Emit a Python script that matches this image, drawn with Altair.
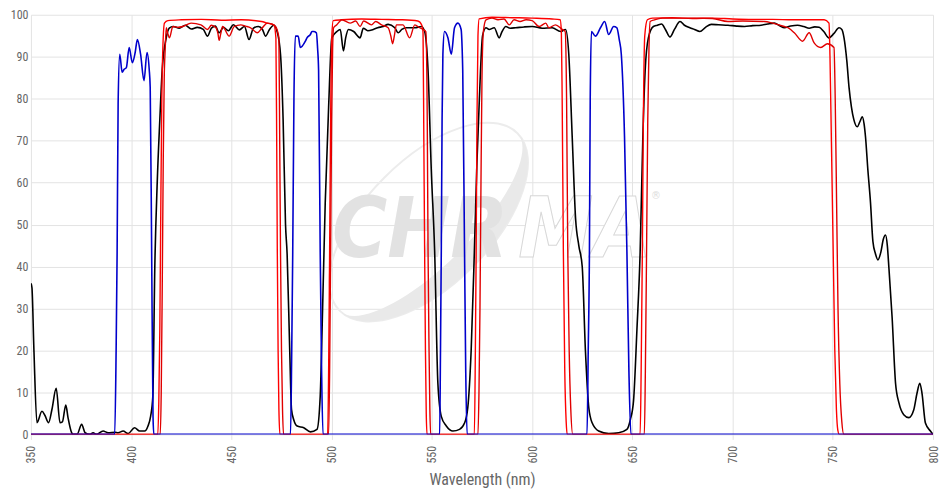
import altair as alt
import pandas as pd

# ---------------- data ----------------
x_ticks = [350, 400, 450, 500, 550, 600, 650, 700, 750, 800]
y_ticks = [0, 10, 20, 30, 40, 50, 60, 70, 80, 90, 100]

black_wl = [350, 350.5, 351.5, 353, 355.5, 357, 358.8, 360.5, 362.6, 364.5, 365.7, 367.4, 368.5, 370.3, 371, 373,
            375.3, 377, 379.4, 381, 382.7, 386, 388.5, 392, 393.5, 396, 398.5, 401.7, 404.2, 406.7, 408.4, 409.7,
            410.8, 411.8, 413, 414.3, 415.5, 417.5, 419, 421, 424, 427, 430, 433, 436, 438.1, 440, 442, 443.9,
            446, 448.5, 451, 454, 456.5, 458.8, 461, 463.5, 465.5, 467, 469, 471.2, 472.8, 474.5, 475.8, 477,
            477.8, 479.1, 480, 481.1, 482.8, 486.1, 489.4, 492.7, 494.3, 495.5, 496.8, 498.5, 500.1, 502.6, 504.3,
            505.9, 507, 508.4, 511, 514.2, 515.8, 518, 520.8, 523, 525.7, 528.2, 531.5, 533.2, 535, 537.3, 541.5,
            544.8, 546.4, 548.1, 549.7, 551.4, 553, 554.7, 557.2, 560.5, 563.8, 566.3, 567.9, 569.6, 571.2, 572.5,
            573.7, 575.3, 577, 578.6, 581.1, 583.6, 585, 586.9, 589, 591.8, 596, 600.1, 605, 610, 614.2, 616.7,
            618.3, 620, 621.7, 623.3, 625, 626.6, 628.3, 630, 633.2, 638.2, 643.2, 647.3, 649, 650.6, 652.3, 653.9,
            655.2, 656.4, 658, 660.5, 662.5, 664.6, 666.5, 668.8, 671, 673.8, 676, 678.7, 681, 683.7, 686.5, 689.4,
            693, 697.7, 702, 706, 710, 714.2, 717.5, 720.8, 723.5, 725.8, 729, 732.4, 735.5, 738.2, 741, 743.2,
            745.5, 748.1, 750.5, 753.1, 754.5, 755.6, 757, 758.1, 759.3, 760.5, 762.2, 763.5, 764.7, 765.6, 766.3,
            767.5, 768.8, 770, 771.3, 772.5, 774, 775.2, 776.3, 777.2, 778, 779.6, 781.3, 783, 785.4, 787.9, 790.4,
            792, 793.4, 794.5, 796.2, 798.7, 800]
black_t = [36, 35, 20, 2.8, 5.5, 4.5, 2.8, 6, 11, 2.8, 3, 7, 4, 0.4, 0, 0,
           2.4, 0.4, 0, 0.4, 0, 0.8, 0.4, 0.5, 0.4, 0.8, 0.2, 1.6, 0.8, 0.8, 2, 4.3,
           9, 40, 60, 75, 87, 94.5, 96.8, 97.2, 96.8, 97.5, 96.6, 97, 96.5, 94.9, 96.8, 97.3, 95.7,
           97, 96.2, 97.6, 96.4, 97.2, 94.1, 96.8, 97.2, 96.5, 94.9, 96.5, 97.5, 96, 90.6, 75, 50,
           43, 20, 5.9, 3.5, 2, 1.6, 0.6, 1.2, 9, 30, 55, 78, 94.5, 96, 96.5,
           91.4, 94.5, 96.5, 96, 94.5, 96.8, 96.2, 96.5, 96.9, 97.2, 97.7, 96.9, 95.7, 96.5, 96.9, 96.9,
           97.2, 96, 86.7, 63.2, 43.5, 12.2, 4.3, 2, 0.8, 1.2, 2.7, 6.3, 20, 43.5, 65,
           80, 95, 96.9, 96.5, 96.9, 94.5, 96, 97.2, 96.8, 96.9, 97.1, 97.2, 96.8, 96.9, 96, 96.5,
           90.6, 71, 51.4, 45, 40, 20, 6.3, 2.7, 0.8, 0.2, 0.4, 1.2, 3.5, 8, 25, 43.5,
           70, 86.7, 94.5, 97.2, 97.5, 97.8, 96.5, 94.7, 96.5, 98.4, 97.5, 96.9, 96.5, 96, 97, 97.7,
           97.6, 97.5, 97.3, 97.2, 97.4, 97.5, 97.8, 98, 97.4, 96.9, 97.3, 97.5, 97.2, 96.8, 97.1, 97,
           96, 94.5, 95.5, 96.9, 96.5, 94.5, 89, 82.7, 78, 75, 73.3, 74.5, 75.7, 74, 71,
           63, 55.3, 46, 43, 41.6, 43.5, 46.5, 47.5, 45, 39.6, 27.8, 12.2, 7.5, 4.7, 4, 5.9,
           9.8, 12.2, 9.8, 2.7, 0.8, 0]

blue_wl = [350, 391.8, 392.5, 393, 393.5, 394.3, 395.5, 396.5, 397.6, 399, 400.6, 402, 403.1, 404.7, 406.4,
           407.9, 409, 409.5, 410.2, 410.9, 411.3,
           479.5, 480.1, 480.6, 481.2, 481.9, 483.3, 484.4, 486.9, 487.7, 489.4, 490.2, 491, 492.4, 493, 493.5,
           494.3, 495, 495.7,
           553.9, 554.3, 554.7, 555.1, 555.5, 556.3, 558, 559.7, 561.3, 563, 564.6, 565.1, 565.4, 566.3, 566.9,
           567.6,
           627.4, 628, 628.6, 629, 629.6, 631.6, 634.1, 636.2, 638.2, 640.7, 642.3, 643.5, 644.5, 646.1, 647.3,
           648.3, 649.3, 800]
blue_t = [0, 0, 20, 43.5, 78.8, 90.6, 86.3, 87, 87.4, 92.2, 88.6, 91, 94.1, 90.6, 84.3,
          91, 87, 82.7, 45, 4.3, 0,
          0, 20, 43.5, 80, 94.9, 94.9, 92.2, 93.7, 94.5, 95.3, 96, 96, 95.7, 92, 86.7,
          43.5, 15, 0,
          0, 20, 43.5, 75, 90.6, 96, 94.5, 90.6, 96.9, 98, 96.5, 92, 86.7, 43.5, 15,
          0,
          0, 20, 43.5, 80, 96, 94.9, 96.9, 98.4, 95.3, 97.2, 96.9, 94, 90.6, 71, 43.5,
          15, 0, 0]

redA_wl = [350, 413.3, 413.8, 414.3, 414.8, 415.3, 415.8, 416.6, 418.3, 425, 435, 445, 455, 465, 467.9, 471.2,
           472.2, 472.6, 472.9, 473.3, 473.7, 474.2,
           498, 498.5, 499, 499.5, 500.1, 500.8, 505, 515, 525, 535, 543, 545, 545.6, 546, 546.4, 546.8, 547.2,
           547.6,
           571.2, 571.7, 572.1, 572.5, 573, 573.6, 580, 590, 600, 610, 614, 614.6, 615, 615.6, 616.3, 617, 617.5,
           653.9, 654.4, 655, 655.5, 656.2, 657.5, 660, 670, 680, 690, 700, 710, 720, 730, 740, 745.7, 748.1,
           748.6, 749.3, 750.2, 751, 751.8, 752.5, 753.2, 800]
redA_t = [0, 0, 8, 25, 55, 80, 92, 98, 98.6, 98.8, 98.9, 98.7, 98.8, 98.4, 98, 97.6,
          94.5, 70, 43.5, 20, 6, 0,
          0, 15, 43.5, 75, 95, 98.6, 98.8, 99, 98.9, 98.8, 98.5, 97.5, 95.7, 70, 43.5, 20, 5,
          0,
          0, 20, 43.5, 75, 95, 99, 99.4, 99.3, 99.2, 99, 98.8, 96, 80, 43.5, 15, 3, 0,
          0, 15, 43.5, 75, 95, 98.8, 99.2, 99.3, 99.1, 99.2, 99, 98.9, 98.9, 98.8, 98.8, 98.8, 98,
          90, 70, 43.5, 20, 6, 1, 0, 0]

redB_wl = [350, 414.5, 415, 415.5, 416, 416.5, 417, 417.5, 418.3, 419.1, 420.8, 423, 425.8, 429.9, 434.8, 438.1,
           440, 442.3, 443.3, 443.9, 444.7, 445.6, 448.9, 451.4, 454.7, 457, 459.6, 462.9, 465.4, 467.9, 470,
           472, 473.7, 474.1, 474.5, 475, 475.5, 476,
           498.5, 499, 499.5, 500, 500.5, 501, 502.6, 505.1, 509.2, 512, 514.2, 516, 519.9, 522, 524.9, 528.2,
           529.5, 530.4, 531.3, 532.3, 535.6, 538.9, 541.5, 543.9, 545.6, 547, 547.7, 548.1, 548.6, 549, 549.4,
           573, 573.5, 574, 574.5, 575, 575.7, 577, 580, 583, 586, 588.6, 591, 594, 597, 600, 603.5, 606.8,
           608.4, 611.7, 615, 616.5, 617.2, 617.8, 618.5, 619.3, 620.3,
           656, 656.5, 657.1, 657.7, 658.3, 658.9, 661, 665, 672, 681.2, 690, 697.7, 705, 715.9, 720, 725.8,
           728, 730.8, 734.9, 738.2, 740.7, 744, 747.3, 750.6, 751.2, 751.9, 752.6, 753.5, 754.5, 755.5, 800]
redB_t = [0, 0, 10, 35, 65, 85, 92, 96.9, 95.5, 94.5, 97.2, 97, 97.2, 98, 97.6, 96.5,
          97.5, 96.9, 95.5, 93.9, 95.5, 97.2, 94.9, 97.2, 97.6, 97.3, 96.9, 95.7, 96.9, 98, 97.8,
          97.2, 94.5, 70, 43.5, 20, 6, 0,
          0, 15, 43.5, 75, 92, 96.9, 97.6, 98.8, 98, 98.5, 97.2, 98.5, 97.6, 98.4, 97.6, 96.9,
          95, 93.1, 95, 97.6, 97.6, 94.5, 97.6, 96.9, 96.5, 96, 75, 43.5, 20, 6, 0,
          0, 10, 30, 60, 85, 96, 98.8, 99.2, 98.8, 99, 97.6, 98.8, 98.4, 98.8, 98.6, 97.2, 98,
          96.9, 97.6, 96.5, 96, 80, 43.5, 20, 6, 0,
          0, 15, 43.5, 75, 92, 98.4, 98.8, 99.2, 99.2, 99.2, 99.1, 98.4, 98.5, 98.4, 98, 97.2,
          96.8, 95.7, 93.7, 95.7, 93.3, 92.2, 93.1, 92.2, 80, 55, 30, 12, 3, 0, 0]

# ---------------- chart ----------------
FONT = "Roboto Condensed, DejaVu Sans Condensed, Roboto, Liberation Sans, sans-serif"
WM_FONT = "DejaVu Sans Condensed, Roboto, Liberation Sans, sans-serif"
GRID = "#e3e3e3"
LABEL = "#666666"

x_scale = alt.Scale(domain=[350, 800], nice=False, zero=False)
y_scale = alt.Scale(domain=[0, 100], nice=False, zero=False)

x_axis = alt.Axis(values=x_ticks, labelAngle=270, title="Wavelength (nm)", grid=True, gridColor=GRID,
                  domain=False, ticks=True, tickColor=GRID, tickSize=5, labelPadding=6,
                  labelFont=FONT, labelFontSize=12, labelColor=LABEL, titleFont=FONT, titleFontSize=16,
                  titleFontWeight="normal", titleColor=LABEL, titlePadding=8, labelFlush=False)
y_axis = alt.Axis(values=y_ticks, title=None, grid=True, gridColor=GRID, domain=False, ticks=False,
                  labelPadding=3, labelFont=FONT, labelFontSize=12, labelColor=LABEL)


def line(wl, t, color, width):
    df = pd.DataFrame({"wl": wl, "t": t})
    return alt.Chart(df).mark_line(color=color, strokeWidth=width, interpolate="monotone", clip=True).encode(
        x=alt.X("wl:Q", scale=x_scale, axis=x_axis),
        y=alt.Y("t:Q", scale=y_scale, axis=y_axis),
    )


dummy = pd.DataFrame({"k": [0]})
crescent = "M -1 0 A 1 0.5 0 0 0 1 0 A 1 0.34 0 0 1 -1 0 Z"
ring = "M -1 0 A 1 0.5 0 1 0 1 0 A 1 0.5 0 1 0 -1 0 Z"

wm_crescent = alt.Chart(dummy).mark_point(shape=crescent, size=63504, angle=315, filled=True, fill="#e9e9e9",
                                         strokeWidth=0, opacity=1).encode(x=alt.value(399), y=alt.value(208))
wm_ring = alt.Chart(dummy).mark_point(shape=ring, size=63504, angle=315, filled=False, stroke="#ececec",
                                     strokeWidth=2, opacity=1).encode(x=alt.value(399), y=alt.value(208))
wm_chr = alt.Chart(dummy).mark_text(text="CHR", font=WM_FONT, fontSize=84, fontStyle="italic", fontWeight="bold",
                                    fill="#e2e2e2", align="left", baseline="alphabetic").encode(
    x=alt.value(302), y=alt.value(243))
wm_ma = alt.Chart(dummy).mark_text(text="MA", font=WM_FONT, fontSize=84, fontStyle="italic", fontWeight="bold",
                                   fill="#ffffff", stroke="#d8d8d8", strokeWidth=1, align="left",
                                   baseline="alphabetic").encode(x=alt.value(489), y=alt.value(243))
wm_r = alt.Chart(dummy).mark_text(text="®", font=WM_FONT, fontSize=11, fill="#dddddd", align="left").encode(
    x=alt.value(622), y=alt.value(182))

chart = alt.layer(
    wm_ring, wm_crescent, wm_chr, wm_ma, wm_r,
    line(black_wl, black_t, "#000000", 1.6),
    line(redA_wl, redA_t, "#ff0000", 1.4),
    line(redB_wl, redB_t, "#e00000", 1.4),
    line(blue_wl, blue_t, "#0000cc", 1.6),
).properties(
    width=905, height=421,
    autosize=alt.AutoSizeParams(type="none"),
    padding={"left": 23, "top": 6, "right": 10, "bottom": 55},
).configure_view(stroke=None)

chart.save("out.html", embed_options={"renderer": "svg", "actions": False})
